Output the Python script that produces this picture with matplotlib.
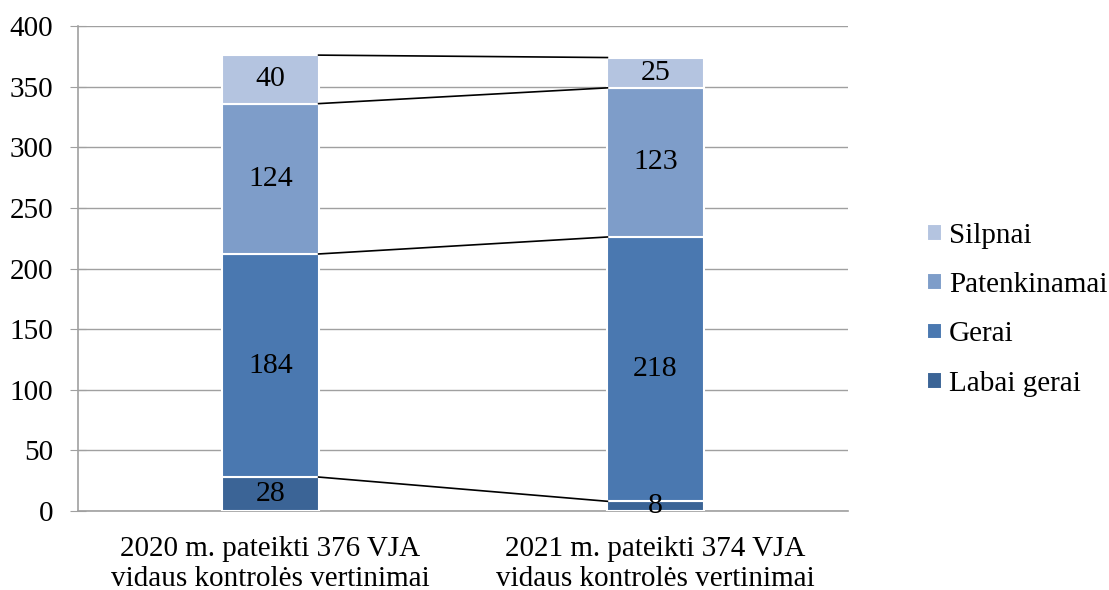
import numpy as np
import matplotlib.pyplot as plt

plt.rcParams['font.family'] = ['Liberation Serif', 'DejaVu Serif']

categories = ['2020 m. pateikti 376 VJA\nvidaus kontrolės vertinimai',
              '2021 m. pateikti 374 VJA\nvidaus kontrolės vertinimai']
series = ['Labai gerai', 'Gerai', 'Patenkinamai', 'Silpnai']
values = {
    'Labai gerai': [28, 8],
    'Gerai': [184, 218],
    'Patenkinamai': [124, 123],
    'Silpnai': [40, 25],
}
colors = ['#3B6496', '#4A78B0', '#7E9DC9', '#B4C4E0']

fig = plt.figure(figsize=(11.09, 5.9), dpi=100)
ax = fig.add_axes([0.0703, 0.1339, 0.6944, 0.822])

x = np.arange(len(categories))
w = 0.25
bottom = np.zeros(len(categories))
tops = []
for s, c in zip(series, colors):
    v = np.array(values[s], dtype=float)
    ax.bar(x, v, w, bottom=bottom, color=c, edgecolor='white', linewidth=1.5,
           label=s, zorder=3)
    for xi, bi, vi in zip(x, bottom, v):
        ax.text(xi, bi + vi / 2, f'{int(vi)}', ha='center', va='center',
                fontsize=21.5, zorder=5)
    bottom = bottom + v
    tops.append(bottom.copy())

# connector lines between stacked segment tops
for t in tops:
    ax.plot([x[0] + w / 2, x[1] - w / 2], [t[0], t[1]], color='black',
            linewidth=1.2, zorder=4)

ax.set_xlim(-0.5, 1.5)
ax.set_ylim(0, 400)
ax.set_yticks(np.arange(0, 401, 50))
ax.set_xticks(x)
ax.set_xticklabels(categories, fontsize=21, linespacing=1.2)
ax.tick_params(axis='y', labelsize=21, direction='inout', length=12,
               color='#A0A0A0', pad=12)
ax.tick_params(axis='x', length=0, pad=18)
ax.grid(axis='y', color='#A0A0A0', linewidth=1.0, zorder=0)
for sp in ['top', 'right']:
    ax.spines[sp].set_visible(False)
for sp in ['left', 'bottom']:
    ax.spines[sp].set_color('#A0A0A0')
    ax.spines[sp].set_linewidth(1.2)

h, l = ax.get_legend_handles_labels()
fig.legend(h[::-1], l[::-1], loc='center left', bbox_to_anchor=(0.836, 0.475),
           frameon=False, fontsize=21, handlelength=0.5, handleheight=0.5,
           handletextpad=0.25, labelspacing=0.8, borderpad=0, borderaxespad=0)

fig.savefig('out.png', dpi=100)
